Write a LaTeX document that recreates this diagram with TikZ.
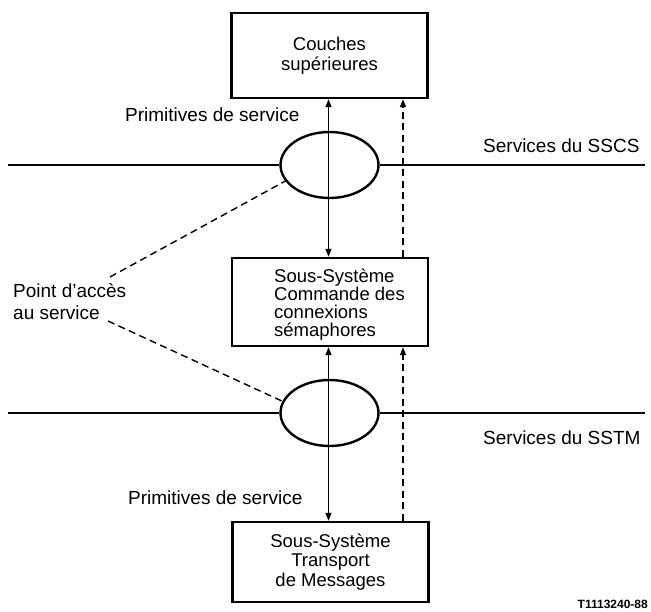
\documentclass[tikz,border=0pt]{standalone}
\usepackage{fontspec}
\setmainfont{Liberation Sans}
\usetikzlibrary{shapes.geometric,arrows.meta}
\begin{document}
\begin{tikzpicture}[x=1pt,y=-1pt,
  box/.style={draw,line width=2.4pt,minimum width=196pt,inner sep=0pt,align=center,font=\fontsize{18.5}{19.5}\selectfont},
  oval/.style={draw,ellipse,line width=2.4pt,minimum width=98pt,minimum height=66pt,inner sep=0pt},
  lab/.style={font=\fontsize{19}{21}\selectfont,inner sep=0pt,anchor=base west},
  link/.style={line width=1.4pt},
  dlink/.style={line width=1.4pt,dash pattern=on 7pt off 4.5pt},
  tp/.tip={Triangle[length=8pt,width=6pt]}
]
\useasboundingbox (0,0) rectangle (651,612);

% boxes
\node[box,minimum height=85pt] (cs) at (329.5,55.5) {Couches\\supérieures};
\node[box,minimum height=88pt] (scc) at (330,302) {};
\node[font=\fontsize{18.5}{18}\selectfont,align=left,inner sep=0pt,anchor=west] (scctxt) at (274,305) {Sous-Système\\Commande des\\connexions\\sémaphores};
\node[box,minimum height=80pt] (stm) at (330.5,562) {Sous-Système\\Transport\\de Messages};

% service access points
\node[oval] (e1) at (329.5,165) {};
\node[oval] (e2) at (329.5,413) {};

% horizontal service boundaries
\coordinate (l1w) at (8,165);
\coordinate (l1e) at (645,165);
\coordinate (l2w) at (8,413);
\coordinate (l2e) at (645,413);
\draw[link] (l1w) -- (e1.west);
\draw[link] (e1.east) -- (l1e);
\draw[link] (l2w) -- (e2.west);
\draw[link] (e2.east) -- (l2e);

% primitives (solid, double-headed)
\draw[link,tp-tp] ([xshift=-1.5pt]scc.north) -- ([xshift=-1pt]cs.south);
\draw[link,tp-tp] ([xshift=-2pt]stm.north) -- ([xshift=-1.5pt]scc.south);

% dashed arrows
\draw[dlink,-tp] ([xshift=73pt]scc.north) -- ([xshift=73.5pt]cs.south);
\draw[dlink,-tp] ([xshift=72.5pt]stm.north) -- ([xshift=73pt]scc.south);

% labels
\node[lab] (ps1) at (125,122) {Primitives de service};
\node[lab] (ps2) at (128,504) {Primitives de service};
\node[lab] (sscs) at (483,153) {Services du SSCS};
\node[lab] (sstm) at (483,444) {Services du SSTM};
\node[lab] (pa1t) at (13,298) {Point d’accès};
\node[lab] (pa2t) at (13,320) {au service};

% access point pointers
\coordinate (pa1) at (110,277);
\coordinate (pa2) at (108,321);
\draw[dlink] (pa1) -- (e1.200);
\draw[dlink] (pa2) -- (e2.166);

\node[font=\bfseries\fontsize{12}{14}\selectfont,inner sep=0pt,anchor=base east] (ref) at (648,608) {T1113240-88};
\end{tikzpicture}
\end{document}
